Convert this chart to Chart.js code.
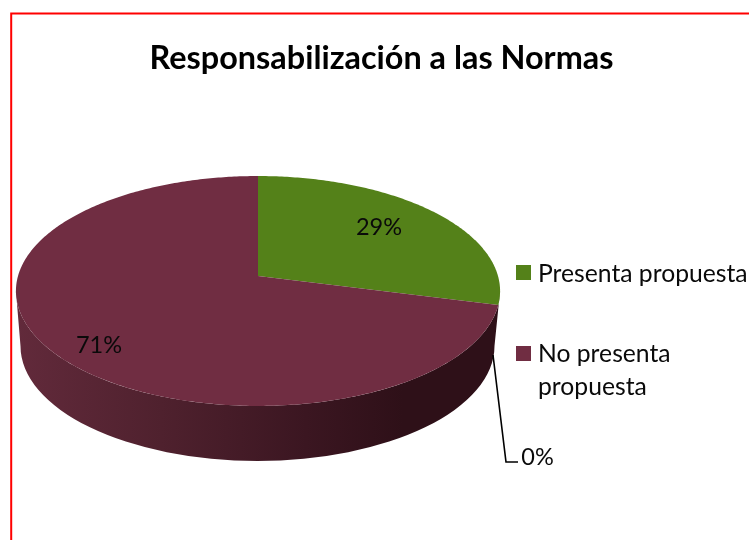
<!DOCTYPE html>
<html lang="es">
<head>
<meta charset="utf-8">
<title>Responsabilización a las Normas</title>
<script src="https://cdn.jsdelivr.net/npm/chart.js@4"></script>
<style>
html,body{margin:0;padding:0;background:#fff;width:749px;height:540px;overflow:hidden}
#wrap{position:absolute;left:0;top:0;width:749px;height:540px}
canvas{display:block}
</style>
</head>
<body>
<div id="wrap"><canvas id="c" width="749" height="540"></canvas></div>
<script>
const chartTitle = "Responsabilización a las Normas";
const categories = ["Presenta propuesta", "No presenta propuesta", ""];
const legendLines = [["Presenta propuesta"], ["No presenta", "propuesta"]];
const values = [29, 71, 0];
const percentLabels = ["29%", "71%", "0%"];
const sliceColors = ["#548119", "#702d42", "#4f6228"];

const FONT = "Lato, Carlito, 'Open Sans', sans-serif";
const TEXT = "#0a0a0a";

// Perspective of the tilted disc (a circle seen through a homography)
const P = {cx: 258, apexY: 276, A: 240, B: 113, a: 0.1304};
const project = (u, v) => {
  const w = 1 + P.a * v;
  return [P.cx + P.A * u / w, P.apexY - P.B * v / w];
};
const base = {cx: 257.5, cy: 346, rx: 237, ry: 115};

const disc3d = {
  id: "disc3d",
  beforeDatasetsDraw(chart) {
    const ctx = chart.ctx, arcs = chart.getDatasetMeta(0).data;
    // side wall
    const t0 = Math.asin(P.a), t1 = Math.PI - t0, n = 160;
    const g = ctx.createLinearGradient(16, 0, 500, 0);
    g.addColorStop(0, "#622a3b");
    g.addColorStop(0.3, "#4f212e");
    g.addColorStop(0.6, "#3b1621");
    g.addColorStop(0.8, "#2e1018");
    g.addColorStop(1, "#2e1018");
    ctx.save();
    ctx.beginPath();
    for (let i = 0; i <= n; i++) {
      const t = t0 + (t1 - t0) * i / n;
      const [x, y] = project(Math.cos(t), -Math.sin(t));
      i ? ctx.lineTo(x, y) : ctx.moveTo(x, y);
    }
    ctx.ellipse(base.cx, base.cy, base.rx, base.ry, 0, Math.PI, 0, true);
    ctx.closePath();
    ctx.fillStyle = g;
    ctx.fill();
    ctx.restore();
    // top face: slice angles come from the library's arc elements
    arcs.forEach((arc) => {
      const {startAngle: s, endAngle: e} = arc.getProps(["startAngle", "endAngle"], true);
      if (e - s <= 0) return;
      ctx.save();
      ctx.beginPath();
      ctx.moveTo(...project(0, 0));
      const m = Math.max(2, Math.ceil((e - s) * 80));
      for (let i = 0; i <= m; i++) {
        const t = s + (e - s) * i / m;
        ctx.lineTo(...project(Math.cos(t), -Math.sin(t)));
      }
      ctx.closePath();
      ctx.fillStyle = arc.options.backgroundColor;
      ctx.fill();
      ctx.restore();
    });
    return false;
  },
  afterDraw(chart) {
    const ctx = chart.ctx;
    ctx.save();
    // red frame
    ctx.strokeStyle = "#ff0000";
    ctx.lineWidth = 2;
    ctx.beginPath();
    ctx.moveTo(11.2, 540); ctx.lineTo(11.2, 13.5); ctx.lineTo(749, 13.5);
    ctx.stroke();
    // leader line of the 0% slice
    ctx.strokeStyle = "#000";
    ctx.lineWidth = 1.6;
    ctx.beginPath();
    ctx.moveTo(493, 355); ctx.lineTo(506, 462); ctx.lineTo(518, 462);
    ctx.stroke();
    // percent labels
    ctx.fillStyle = TEXT;
    ctx.font = "23.5px " + FONT;
    ctx.textAlign = "center";
    ctx.textBaseline = "middle";
    [[379, 227], [99, 345], [537.5, 457]].forEach((p, i) => ctx.fillText(percentLabels[i], p[0], p[1]));
    // legend
    ctx.font = "24.7px " + FONT;
    ctx.textAlign = "left";
    [[265, 274], [346, 354]].forEach((r, i) => {
      ctx.fillStyle = sliceColors[i];
      ctx.fillRect(516, r[0], 15, 15);
      ctx.fillStyle = TEXT;
      legendLines[i].forEach((line, j) => ctx.fillText(line, 538, r[1] + j * 33));
    });
    ctx.restore();
  }
};

new Chart(document.getElementById("c"), {
  type: "pie",
  data: {labels: categories, datasets: [{data: values, backgroundColor: sliceColors, borderWidth: 0}]},
  options: {
    responsive: false,
    animation: false,
    layout: {padding: {left: 14, top: 39}},
    plugins: {
      legend: {display: false},
      tooltip: {enabled: false},
      title: {
        display: true,
        text: chartTitle,
        color: "#000",
        font: {family: FONT, size: 32.4, weight: "bold", lineHeight: 1.2},
        padding: {top: 0, bottom: 0}
      }
    }
  },
  plugins: [disc3d]
});
</script>
</body>
</html>
